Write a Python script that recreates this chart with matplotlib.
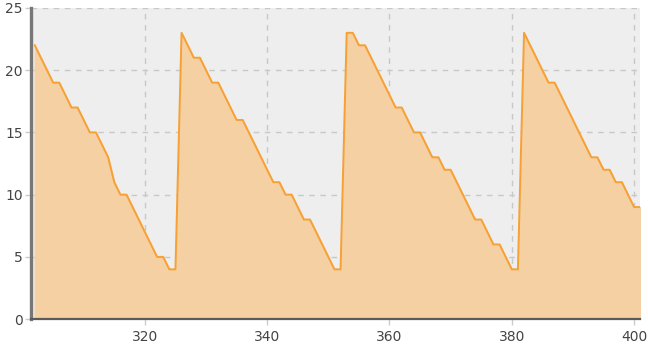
import numpy as np
import matplotlib
matplotlib.use('Agg')
import matplotlib.pyplot as plt

x = np.arange(302, 402)
values = [
    22, 21, 20, 19, 19, 18, 17, 17, 16, 15,   # 302-311
    15, 14, 13, 11, 10, 10, 9, 8, 7, 6,       # 312-321
    5, 5, 4, 4, 23, 22, 21, 21, 20, 19,       # 322-331
    19, 18, 17, 16, 16, 15, 14, 13, 12, 11,   # 332-341
    11, 10, 10, 9, 8, 8, 7, 6, 5, 4,          # 342-351
    4, 23, 23, 22, 22, 21, 20, 19, 18, 17,    # 352-361
    17, 16, 15, 15, 14, 13, 13, 12, 12, 11,   # 362-371
    10, 9, 8, 8, 7, 6, 6, 5, 4, 4,            # 372-381
    23, 22, 21, 20, 19, 19, 18, 17, 16, 15,   # 382-391
    14, 13, 13, 12, 12, 11, 11, 10, 9, 9,     # 392-401
]
x_ticks = [320, 340, 360, 380, 400]
y_ticks = [0, 5, 10, 15, 20, 25]

fig = plt.figure(figsize=(6.48, 3.45), dpi=100)
ax = fig.add_axes([0.048, 0.075, 0.94, 0.902])
ax.set_facecolor('#eeeeee')

ax.fill_between(x, values, 0, color='#f5d0a2', zorder=2)
ax.plot(x, values, color='#f7a034', linewidth=1.4, zorder=3)

ax.set_xlim(301.4, 401)
ax.set_ylim(0, 25)
ax.set_xticks(x_ticks)
ax.set_yticks(y_ticks)

ax.grid(True, color='#c8c8c8', linestyle=(0, (4, 4)), linewidth=1, zorder=1)
ax.set_axisbelow(True)

for side in ['top', 'right']:
    ax.spines[side].set_visible(False)
ax.spines['left'].set_color('#777777')
ax.spines['left'].set_linewidth(2.4)
ax.spines['bottom'].set_color('#5a5a5a')
ax.spines['bottom'].set_linewidth(1.6)
ax.spines['left'].set_zorder(4)
ax.spines['bottom'].set_zorder(4)

ax.tick_params(axis='both', colors='#cccccc', labelcolor='#444444',
               labelsize=10, length=4, width=1)
ax.tick_params(axis='x', pad=4)
ax.tick_params(axis='y', pad=2)

fig.savefig('out.png', dpi=100)
